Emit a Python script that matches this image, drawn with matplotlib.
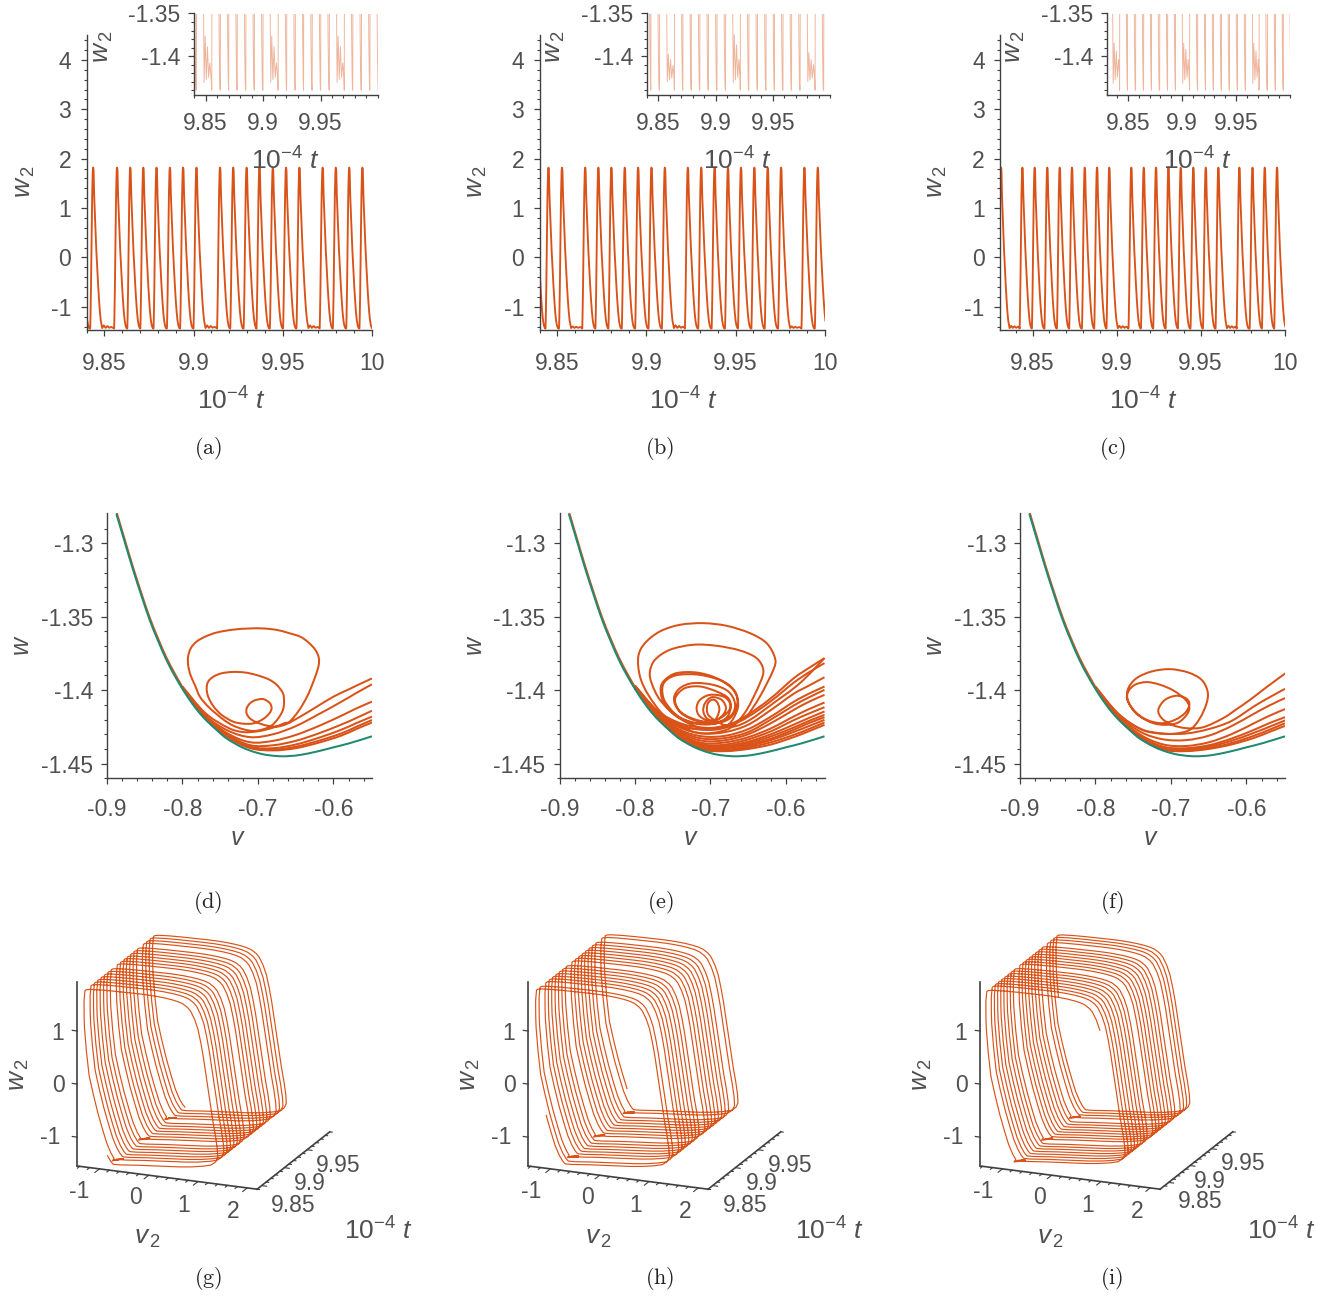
import numpy as np
import matplotlib
matplotlib.use('Agg')
import matplotlib.pyplot as plt
from matplotlib.patches import PathPatch
from matplotlib.path import Path
from mpl_toolkits.mplot3d import Axes3D

plt.rcParams['font.family'] = ['Liberation Sans', 'DejaVu Sans']
plt.rcParams['mathtext.fontset'] = 'custom'
plt.rcParams['mathtext.rm'] = 'Liberation Sans'
plt.rcParams['mathtext.it'] = 'Liberation Sans:italic'
plt.rcParams['axes.unicode_minus'] = False

W, H = 1329, 1297
ORANGE = '#d95319'
GREEN = '#1f8a70'
TEXT = '#505050'
AXIS = '#404040'
FS = 16.5

# ---- data ----
# spike peak times per panel
peaks_a = [9.8359, 9.8435, 9.8569, 9.8643, 9.8716, 9.8790, 9.8865, 9.8939, 9.9014, 9.9146, 9.9220,
           9.9295, 9.9367, 9.9442, 9.9516, 9.9591, 9.9721, 9.9795, 9.9870, 9.9944]
peaks_b = [9.8375, 9.8448, 9.8524, 9.8654, 9.8728, 9.8801, 9.8876, 9.8951, 9.9026, 9.9101, 9.9230,
           9.9305, 9.9380, 9.9455, 9.9528, 9.9603, 9.9678, 9.9753, 9.9884, 9.9959]
peaks_c = [9.8310, 9.8437, 9.8510, 9.8585, 9.8659, 9.8732, 9.8808, 9.8881, 9.8954, 9.9085, 9.9159,
           9.9232, 9.9306, 9.9379, 9.9454, 9.9528, 9.9603, 9.9728, 9.9806, 9.9879, 9.9952]

# one spike: time after the peak, w2 and v2
spike_dt = [-.00145, -.00143, -.00141, -.00139, -.00137, -.00135, -.00133, -.00131, -.00129, -.00127, -.00123,
            -.00118, -.0011, -.001, -.0009, -.0008, -.0007, -.0006, -.0005, -.0004, -.0003, -.0002, -.0001,
            -.00005, 0, .00004, .00008, .00012, .00016, .0002, .00024, .00028, .00032, .00036, .0004, .00044,
            .00048, .0006, .0008, .001, .0015, .002, .0025, .003, .0035, .004, .0045, .005, .0055, .0058]
spike_w = [-1.44, -1.435, -1.42, -1.40, -1.38, -1.355, -1.33, -1.30, -1.26, -1.22, -1.15,
           -1.06, -.9, -.65, -.4, -.1, .2, .5, .8, 1.05, 1.3, 1.48, 1.62,
           1.68, 1.74, 1.77, 1.79, 1.805, 1.815, 1.82, 1.82, 1.815, 1.81, 1.80, 1.785, 1.77,
           1.75, 1.55, 1.25, 1.05, .6, .15, -.2, -.55, -.85, -1.1, -1.28, -1.38, -1.43, -1.44]
spike_v = [-.72, -.60, -.45, -.25, 0, .3, .6, .85, 1.08, 1.24, 1.34,
           1.38, 1.37, 1.33, 1.28, 1.23, 1.18, 1.13, 1.08, 1.03, .97, .90, .82,
           .76, .66, .56, .44, .30, .14, -.02, -.2, -.44, -.72, -1.0, -1.22, -1.3,
           -1.33, -1.35, -1.35, -1.345, -1.31, -1.26, -1.18, -1.09, -1.0, -.92, -.84, -.78, -.74, -.72]

# small oscillations in the gaps between bursts
ring_dt = [.0053, .0062, .0072, .0082, .0092, .0103, .0112]
ring_v = [-.82, -.60, -.80, -.62, -.78, -.64, -.72]
rings_a = [[-1.431, -1.3765, -1.4275, -1.389, -1.425, -1.408, -1.423],
           [-1.431, -1.3765, -1.4275, -1.389, -1.425, -1.408, -1.423],
           [-1.431, -1.3765, -1.4275, -1.389, -1.425, -1.408, -1.423]]
rings_b = [[-1.430, -1.398, -1.428, -1.404, -1.426, -1.411, -1.424],
           [-1.431, -1.375, -1.428, -1.387, -1.425, -1.404, -1.423],
           [-1.430, -1.396, -1.428, -1.404, -1.426, -1.410, -1.424]]
rings_c = [[-1.432, -1.385, -1.428, -1.394, -1.425, -1.404, -1.423],
           [-1.432, -1.385, -1.428, -1.392, -1.425, -1.404, -1.423],
           [-1.432, -1.385, -1.428, -1.394, -1.425, -1.404, -1.423]]

# nullcline
null_v = [-.8876, -.876, -.8655, -.8545, -.8434, -.8323, -.8212, -.81, -.799, -.788, -.777, -.766, -.755,
          -.744, -.7327, -.7215, -.7106, -.70, -.6885, -.6708, -.6575, -.6443, -.622, -.60, -.5779, -.549]
null_w = [-1.28, -1.30, -1.318, -1.3355, -1.3523, -1.3665, -1.3795, -1.3905, -1.40, -1.4085, -1.4158, -1.4218,
          -1.427, -1.432, -1.4357, -1.4388, -1.4411, -1.4428, -1.4441, -1.445, -1.4448, -1.4441, -1.4418,
          -1.4389, -1.436, -1.4314]
# orange trajectory coming down beside the nullcline
down_v = [-.8876, -.876, -.8655, -.8545, -.8434, -.8323, -.8212, -.81, -.80]
down_w = [-1.2784, -1.2984, -1.3164, -1.3339, -1.3507, -1.3649, -1.3779, -1.3889, -1.398]

# trajectories leaving to the right, w at fan_v
fan_v = [-.80, -.77, -.74, -.71, -.68, -.65, -.62, -.59, -.57, -.549]
fan_d = [[-1.398, -1.417, -1.4275, -1.432, -1.430, -1.4245, -1.4165, -1.408, -1.402, -1.396],
         [-1.398, -1.4175, -1.4295, -1.4355, -1.4345, -1.4305, -1.4245, -1.4175, -1.4125, -1.4078],
         [-1.3985, -1.418, -1.4305, -1.4375, -1.4375, -1.4345, -1.4295, -1.4235, -1.419, -1.414],
         [-1.3985, -1.4185, -1.431, -1.4385, -1.4395, -1.437, -1.4325, -1.427, -1.4225, -1.418],
         [-1.3985, -1.4185, -1.4315, -1.439, -1.4405, -1.4385, -1.4345, -1.4295, -1.425, -1.4203],
         [-1.3985, -1.419, -1.432, -1.4395, -1.441, -1.4395, -1.4358, -1.431, -1.4265, -1.422]]
fan_e = [[-1.397, -1.414, -1.4225, -1.4255, -1.4245, -1.4165, -1.4055, -1.392, -1.385, -1.3782],
         [-1.397, -1.4145, -1.4235, -1.427, -1.4255, -1.418, -1.4075, -1.395, -1.388, -1.3816],
         [-1.3975, -1.4155, -1.4255, -1.4295, -1.4285, -1.4235, -1.4135, -1.4025, -1.397, -1.3912],
         [-1.3975, -1.416, -1.427, -1.4315, -1.431, -1.4265, -1.418, -1.408, -1.4025, -1.3975],
         [-1.398, -1.4165, -1.428, -1.433, -1.4325, -1.4285, -1.420, -1.4105, -1.405, -1.3998],
         [-1.398, -1.417, -1.429, -1.4345, -1.434, -1.43, -1.4225, -1.4135, -1.408, -1.4032],
         [-1.3985, -1.4175, -1.43, -1.436, -1.4355, -1.432, -1.426, -1.418, -1.413, -1.4084],
         [-1.3985, -1.418, -1.4305, -1.437, -1.437, -1.4335, -1.428, -1.4205, -1.416, -1.4116],
         [-1.3985, -1.4185, -1.431, -1.4375, -1.438, -1.435, -1.43, -1.4235, -1.419, -1.4145],
         [-1.3985, -1.4185, -1.4315, -1.4385, -1.439, -1.436, -1.4315, -1.4255, -1.421, -1.4168],
         [-1.3985, -1.4185, -1.432, -1.439, -1.4395, -1.437, -1.433, -1.427, -1.4225, -1.4184],
         [-1.3985, -1.419, -1.432, -1.4395, -1.4405, -1.438, -1.434, -1.4285, -1.4245, -1.4202],
         [-1.3985, -1.419, -1.4325, -1.44, -1.441, -1.439, -1.4355, -1.4305, -1.4265, -1.422],
         [-1.3985, -1.419, -1.433, -1.4405, -1.4415, -1.44, -1.437, -1.432, -1.428, -1.4236]]
fan_f = [[-1.398, -1.416, -1.4265, -1.4295, -1.4295, -1.4265, -1.421, -1.411, -1.405, -1.3991],
         [-1.398, -1.417, -1.4285, -1.4335, -1.434, -1.431, -1.4245, -1.416, -1.4105, -1.4054],
         [-1.3985, -1.418, -1.4305, -1.437, -1.438, -1.4355, -1.43, -1.4225, -1.4175, -1.4129],
         [-1.3985, -1.4185, -1.4315, -1.4385, -1.4395, -1.4375, -1.433, -1.427, -1.4225, -1.4184],
         [-1.3985, -1.4185, -1.432, -1.4395, -1.4405, -1.4385, -1.4345, -1.429, -1.425, -1.4206],
         [-1.3985, -1.419, -1.4325, -1.44, -1.441, -1.4395, -1.436, -1.431, -1.427, -1.4225],
         [-1.3985, -1.419, -1.433, -1.4405, -1.4415, -1.44, -1.437, -1.4325, -1.4285, -1.4243]]

# the spiralling trajectory of each phase plane
spiral_d_v = [-.80, -.77, -.74, -.72, -.70, -.68, -.665, -.658, -.646, -.635, -.6265, -.620, -.6195, -.624, -.633,
              -.644, -.660, -.675, -.693, -.711, -.733, -.755, -.770, -.7815, -.789, -.7925, -.7925, -.7894, -.7836,
              -.777, -.766, -.755, -.744, -.733, -.7195, -.706, -.693, -.682, -.673, -.667, -.6655, -.667, -.675,
              -.686, -.702, -.717, -.733, -.748, -.759, -.766, -.768, -.766, -.759, -.748, -.733, -.7195, -.706,
              -.693, -.685, -.682, -.684, -.69, -.695, -.704, -.7107, -.715, -.715, -.7107, -.702, -.6885, -.675,
              -.662, -.644, -.622, -.60, -.58, -.565, -.549]
spiral_d_w = [-1.3975, -1.4155, -1.4255, -1.4285, -1.428, -1.4255, -1.4225, -1.4214, -1.414, -1.4044, -1.394, -1.384,
              -1.378, -1.3726, -1.3676, -1.3636, -1.361, -1.359, -1.358, -1.358, -1.3588, -1.3608, -1.3636, -1.367,
              -1.3715, -1.377, -1.383, -1.3897, -1.3965, -1.4044, -1.4112, -1.4162, -1.4207, -1.4241, -1.4266, -1.4278,
              -1.4266, -1.4241, -1.4191, -1.4135, -1.4078, -1.4021, -1.3965, -1.3926, -1.3897, -1.388, -1.3876, -1.3885,
              -1.3908, -1.3942, -1.3987, -1.4044, -1.411, -1.4169, -1.4214, -1.4228, -1.4226, -1.4196, -1.4158, -1.4124,
              -1.409, -1.4067, -1.406, -1.4069, -1.409, -1.4124, -1.416, -1.4192, -1.4219, -1.4241, -1.4248, -1.423,
              -1.418, -1.4112, -1.4044, -1.3995, -1.3958, -1.392]
spiral_e_v = [-.80, -.77, -.74, -.71, -.68, -.66, -.652, -.6345, -.6168, -.6146, -.6257, -.6477, -.6786, -.7095, -.7404,
              -.7669, -.7868, -.7956, -.7934, -.7824, -.7625, -.7404, -.7139, -.6875, -.6698, -.652, -.6345, -.6301, -.639,
              -.661, -.6919, -.7228, -.7537, -.7735, -.7802, -.778, -.7669, -.7449, -.7184, -.6963, -.6764, -.6645, -.6645,
              -.672, -.6919, -.7184, -.745, -.7603, -.766, -.7625, -.747, -.7228, -.6963, -.6742, -.6645, -.6676, -.683,
              -.7139, -.7427, -.7581, -.7638, -.7603, -.7426, -.7184, -.692, -.672, -.6676, -.6764, -.6963, -.7228, -.7404,
              -.7484, -.7426, -.725, -.7007, -.681, -.6733, -.6764, -.692, -.7139, -.7338, -.7457, -.7457, -.736, -.7139,
              -.6919, -.6764, -.6742, -.683, -.7007, -.7139, -.7184, -.7139, -.6985, -.6853, -.6795, -.6853, -.6985, -.7073,
              -.7095, -.7042, -.6941, -.6883, -.6919, -.6985, -.7042, -.7029, -.6875, -.6698, -.6477, -.6168, -.5815, -.549]
spiral_e_w = [-1.397, -1.415, -1.4245, -1.4265, -1.424, -1.4205, -1.4179, -1.4043, -1.3862, -1.3782, -1.368, -1.3612,
              -1.3562, -1.3544, -1.3555, -1.36, -1.368, -1.3771, -1.3907, -1.4032, -1.4168, -1.4248, -1.4293, -1.4282,
              -1.4243, -1.4134, -1.3952, -1.3862, -1.3782, -1.373, -1.3698, -1.3691, -1.3725, -1.3793, -1.3873, -1.3952,
              -1.4066, -1.4179, -1.4248, -1.4266, -1.4236, -1.4134, -1.4055, -1.3986, -1.3918, -1.388, -1.3884, -1.393,
              -1.3986, -1.4077, -1.4168, -1.422, -1.4229, -1.4191, -1.4089, -1.4009, -1.3941, -1.3896, -1.3896, -1.393,
              -1.3986, -1.4077, -1.4179, -1.4229, -1.4225, -1.4168, -1.4089, -1.4009, -1.3964, -1.3952, -1.3986, -1.4055,
              -1.4134, -1.4191, -1.422, -1.4198, -1.4123, -1.4055, -1.4009, -1.3975, -1.3986, -1.4043, -1.41, -1.4168,
              -1.4214, -1.4202, -1.4145, -1.4089, -1.4043, -1.4032, -1.4066, -1.4123, -1.4179, -1.4214, -1.4179, -1.4123,
              -1.4066, -1.4048, -1.4089, -1.4145, -1.4195, -1.4202, -1.4134, -1.4077, -1.4066, -1.41, -1.4168, -1.4225,
              -1.4248, -1.4202, -1.4089, -1.3952, -1.3782]
spiral_f_v = [-.80, -.77, -.74, -.719, -.697, -.675, -.6616, -.6528, -.6515, -.6594, -.677, -.7013, -.7256, -.7455, -.7565,
              -.7578, -.7521, -.7411, -.7234, -.7058, -.6903, -.6793, -.6757, -.6815, -.6969, -.7146, -.7322, -.7477,
              -.7565, -.7578, -.7477, -.7322, -.7124, -.6947, -.6815, -.6757, -.6793, -.6925, -.708, -.7168, -.7124,
              -.6991, -.6793, -.6572, -.6307, -.613, -.5954, -.5733, -.5481]
spiral_f_w = [-1.3975, -1.416, -1.4265, -1.4293, -1.4297, -1.427, -1.419, -1.4088, -1.4009, -1.393, -1.388, -1.3857,
              -1.3873, -1.3918, -1.3986, -1.4054, -1.4122, -1.4179, -1.4225, -1.4236, -1.422, -1.4168, -1.4116, -1.4061,
              -1.4002, -1.3963, -1.3945, -1.3963, -1.4009, -1.4066, -1.4145, -1.4202, -1.4225, -1.4202, -1.4156, -1.41,
              -1.4059, -1.4038, -1.4066, -1.4134, -1.419, -1.4236, -1.4259, -1.4252, -1.419, -1.4129, -1.4066, -1.3979,
              -1.3884]

# tick labels
t_ticks = [9.85, 9.9, 9.95, 10]
t_labels = ['9.85', '9.9', '9.95', '10']
w2_ticks = [-1, 0, 1, 2, 3, 4]
inset_ticks = [-1.4, -1.35]
inset_labels = ['-1.4', '-1.35']
v_ticks = [-.9, -.8, -.7, -.6]
v_labels = ['-0.9', '-0.8', '-0.7', '-0.6']
w_ticks = [-1.45, -1.4, -1.35, -1.3]
w_labels = ['-1.45', '-1.4', '-1.35', '-1.3']
captions = ['(a)', '(b)', '(c)', '(d)', '(e)', '(f)', '(g)', '(h)', '(i)']


def build(peaks, rings):
    # strings the spike and the gap oscillations together along the time axis
    t, w, v = [], [], []
    k = 0
    for i, p in enumerate(peaks):
        gap = i + 1 < len(peaks) and peaks[i + 1] - p > .01
        for dt, a, b in zip(spike_dt, spike_w, spike_v):
            if gap and dt > .005:
                break
            t.append(p + dt)
            w.append(a)
            v.append(b)
        if gap:
            for dt, a, b in zip(ring_dt, rings[k], ring_v):
                t.append(p + dt)
                w.append(a)
                v.append(b)
            k += 1
    return np.array(t), np.array(w), np.array(v)


def curve(ax, xs, ys, color):
    # draws the read points as one bezier path so the loops stay round
    pts = np.column_stack([xs, ys])
    verts = [pts[0]]
    codes = [Path.MOVETO]
    for i in range(len(pts) - 1):
        a = pts[max(i - 1, 0)]
        b = pts[i]
        c = pts[i + 1]
        d = pts[min(i + 2, len(pts) - 1)]
        verts += [b + (c - a) / 6, c - (d - b) / 6, c]
        codes += [Path.CURVE4, Path.CURVE4, Path.CURVE4]
    ax.add_patch(PathPatch(Path(verts, codes), fill=False, edgecolor=color, lw=1.45))


def add_ax(x0, x1, y0, y1):
    # axes from pixel edges of the picture
    return fig.add_axes([x0 / W, 1 - y1 / H, (x1 - x0) / W, (y1 - y0) / H])


def put(x, y, s, **kw):
    kw.setdefault('fontsize', FS)
    kw.setdefault('color', TEXT)
    fig.text(x / W, 1 - y / H, s, ha='center', va='center', **kw)


def style(ax):
    ax.spines['top'].set_visible(False)
    ax.spines['right'].set_visible(False)
    ax.spines['left'].set_color(AXIS)
    ax.spines['bottom'].set_color(AXIS)
    ax.spines['left'].set_linewidth(1.0)
    ax.spines['bottom'].set_linewidth(1.0)
    ax.patch.set_alpha(0)
    ax.tick_params(which='major', direction='out', length=4, width=0.9, color=AXIS, labelcolor=TEXT,
                   labelsize=FS, pad=6)
    ax.tick_params(which='minor', direction='out', length=2.2, width=0.8, color=AXIS)


fig = plt.figure(figsize=(W / 100, H / 100), dpi=100)

TLAB = r'$\mathrm{10}^{-4}\ t$'
W2LAB = r'$w_{\,2}$'
V2LAB = r'$v_{\,2}$'

# ---- top row: time series with inset ----
series = [(peaks_a, rings_a), (peaks_b, rings_b), (peaks_c, rings_c)]
main_x = [(86.5, 372), (539.5, 824.7), (1000, 1284.7)]
inset_x = [(194, 378), (647, 830), (1107, 1290)]
t_start = [9.8403, 9.8401, 9.8306]
lab_shift = [0, 452, 912]

for n in range(3):
    t, w, v = build(*series[n])
    ax = add_ax(main_x[n][0], main_x[n][1], 35.3, 330)
    ax.plot(t, w, color=ORANGE, lw=1.35)
    ax.set_xlim(t_start[n], 10)
    ax.set_ylim(-1.47, 4.5)
    ax.set_xticks(t_ticks)
    ax.set_xticklabels(t_labels)
    ax.set_xticks(np.arange(9.84, 10.0, .01), minor=True)
    ax.set_yticks(w2_ticks)
    ax.set_yticks(np.arange(-1.4, 4.5, .2), minor=True)
    style(ax)
    ax.tick_params(axis='x', which='major', pad=11.5)
    ax.tick_params(axis='y', which='major', pad=7)

    ins = add_ax(inset_x[n][0], inset_x[n][1], 13.5, 95)
    ins.plot(t, w, color=ORANGE, lw=0.7, alpha=0.42)
    ins.set_xlim(t_start[n], 10)
    ins.set_ylim(-1.4457, -1.35)
    ins.set_xticks(t_ticks[:3])
    ins.set_xticklabels(t_labels[:3])
    ins.set_xticks(np.arange(9.84, 10.001, .01), minor=True)
    ins.set_yticks(inset_ticks)
    ins.set_yticklabels(inset_labels)
    ins.set_yticks(np.arange(-1.44, -1.35, .01), minor=True)
    style(ins)
    ins.tick_params(axis='x', which='major', pad=8.5)

    s = lab_shift[n]
    put(231 + s, 401, TLAB, fontsize=19)
    put(25 + s, 182, W2LAB, fontsize=19, rotation=90)
    put(285 + s, 161, TLAB, fontsize=19)
    put(103 + s, 47, W2LAB, fontsize=19, rotation=90)

# ---- middle row: phase planes ----
phase_x = [(107, 372), (559.5, 824.5), (1020, 1285)]
spirals = [(spiral_d_v, spiral_d_w), (spiral_e_v, spiral_e_w), (spiral_f_v, spiral_f_w)]
fans = [fan_d, fan_e, fan_f]
for n in range(3):
    ax = add_ax(phase_x[n][0], phase_x[n][1], 513.3, 778.3)
    for row in fans[n]:
        curve(ax, fan_v, row, ORANGE)
    curve(ax, spirals[n][0], spirals[n][1], ORANGE)
    curve(ax, down_v, down_w, ORANGE)
    curve(ax, null_v, null_w, GREEN)
    ax.set_xlim(-.9, -.549)
    ax.set_ylim(-1.46, -1.2796)
    ax.set_xticks(v_ticks)
    ax.set_xticklabels(v_labels)
    ax.set_xticks(np.arange(-.9, -.54, .02), minor=True)
    ax.set_yticks(w_ticks)
    ax.set_yticklabels(w_labels)
    ax.set_yticks(np.arange(-1.46, -1.28, .01), minor=True)
    style(ax)
    ax.tick_params(axis='x', which='major', pad=10)
    s = phase_x[n][0] - 107
    put(238 + s, 838, r'$v$', fontsize=18)
    put(22 + s, 645, r'$w$', fontsize=18, rotation=90)

# ---- bottom row: 3D views ----
v_lim = (-1.45, 2.2)
w_lim = (-1.544, 1.92)
t_lim = [(9.84, 10), (9.84, 10), (9.83, 10)]
t_first = [9.8403, 9.8401, 9.8306]
t_end = [10, 10, 9.9972]
shift3d = [0, 451, 903]
v2_ticks = [-1, 0, 1, 2]
w3_ticks = [-1, 0, 1]
t3_ticks = [9.85, 9.9, 9.95]
t3_pos = [[(293, 1205), (310, 1184), (338, 1166)],
          [(745, 1205), (762, 1184), (790, 1166)],
          [(1200, 1201), (1210, 1181), (1243, 1164)]]
v2_pos = [(79, 1192), (135, 1198), (184, 1205), (233, 1212)]
w3_pos = [(50, 1138), (58, 1085), (58, 1033)]
side = 400

for n in range(3):
    t, w, v = build(*series[n])
    keep = (t >= t_first[n]) & (t <= t_end[n])
    cx, cy = 203.5 + shift3d[n] - .0135 * side, 1057 + .0135 * side
    ax = fig.add_axes([(cx - side / 2) / W, 1 - (cy + side / 2) / H, side / W, side / H],
                      projection='3d', proj_type='ortho')
    ax.view_init(elev=18.6, azim=-68)
    ax.set_box_aspect((1, 1, 1), zoom=194 / (.5948 * side))
    ax.set_axis_off()
    ax.patch.set_alpha(0)
    ax.set_xlim(v_lim[0], v_lim[1], view_margin=0)
    ax.set_ylim(t_lim[n][0], t_lim[n][1], view_margin=0)
    ax.set_zlim(w_lim[0], w_lim[1], view_margin=0)
    ax.plot(v[keep], t[keep], w[keep], color=ORANGE, lw=0.85)

    t0, t1 = t_lim[n]
    # axis lines
    ax.plot([v_lim[0], v_lim[0]], [t0, t0], w_lim, color=AXIS, lw=1.2)
    ax.plot(v_lim, [t0, t0], [w_lim[0], w_lim[0]], color=AXIS, lw=1.2)
    ax.plot([v_lim[1], v_lim[1]], [t0, t1], [w_lim[0], w_lim[0]], color=AXIS, lw=1.2)
    # ticks
    for a in w3_ticks:
        ax.plot([v_lim[0] - .1, v_lim[0]], [t0, t0], [a, a], color=AXIS, lw=0.9)
    for a in np.arange(-1.4, 2.2, .2):
        tl = .01 if round(a, 1) in v2_ticks else .005
        ax.plot([a, a], [t0 - tl, t0], [w_lim[0], w_lim[0]], color=AXIS, lw=0.8)
    for a in np.arange(9.84, 10.0, .01):
        tl = .1 if round(a, 2) in t3_ticks else .05
        ax.plot([v_lim[1], v_lim[1] + tl], [a, a], [w_lim[0], w_lim[0]], color=AXIS, lw=0.8)

    s = shift3d[n]
    for p, lab in zip(w3_pos, ['-1', '0', '1']):
        put(p[0] + s, p[1], lab)
    for p, lab in zip(v2_pos, ['-1', '0', '1', '2']):
        put(p[0] + s + (1 if n else 0), p[1], lab)
    for p, lab in zip(t3_pos[n], ['9.85', '9.9', '9.95']):
        put(p[0], p[1], lab)
    put(148 + s, 1238, V2LAB, fontsize=19)
    put(378 + s, 1231, TLAB, fontsize=19)
    put(19 + s, 1075, W2LAB, fontsize=19, rotation=90)

# ---- captions ----
cap_x = [208, 660, 1112]
cap_y = [448, 902, 1279]
for i, lab in enumerate(captions):
    fig.text(cap_x[i % 3] / W, 1 - cap_y[i // 3] / H, r'$\mathrm{' + lab + '}$', ha='center', va='center',
             fontsize=16, color='#222222', math_fontfamily='cm')

fig.savefig('out.png', dpi=100)
